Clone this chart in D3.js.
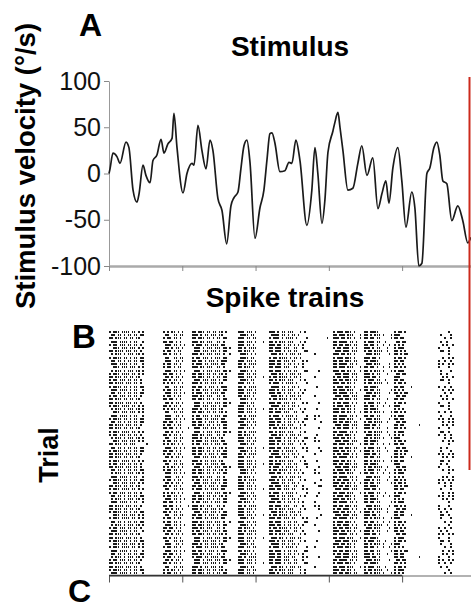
<!DOCTYPE html>
<html>
<head>
<meta charset="utf-8">
<script src="https://cdn.jsdelivr.net/npm/d3@7/dist/d3.min.js"></script>
<style>
  body { margin: 0; background: #fff; }
  svg { display: block; font-family: "Liberation Sans", Arial, Helvetica, sans-serif; }
</style>
</head>
<body>
<div id="figure"></div>
<script>
// Panel A: stimulus velocity (deg/s) against time (ms)
const stimTime = [0, 7, 27, 55, 75, 116, 136, 164, 191, 205, 232, 252, 280, 300, 327, 355, 375, 402, 430, 443,
  464, 505, 532, 566, 580, 607, 634, 662, 689, 709, 743, 771, 803, 832, 853, 880, 900, 921, 941, 962,
  996, 1030, 1057, 1078, 1098, 1112, 1132, 1166, 1200, 1228, 1248, 1275, 1303, 1350, 1384, 1405, 1425, 1453, 1473, 1494,
  1528, 1541, 1562, 1576, 1596, 1630, 1664, 1698, 1725, 1760, 1800, 1835, 1862, 1889, 1910, 1937, 1971, 1998, 2026, 2066,
  2087, 2114, 2135, 2169, 2189, 2217, 2237, 2257, 2278, 2305, 2339, 2380, 2414, 2448, 2469];
const stimVelocity = [0, 5, 22, 18, 11, 34, 28, -18, -31, -22, 9, -2, -10, 14, 20, 37, 22, 32, 38, 65,
  28, -21, 0, 11, 9, 52, 25, 5, 36, 25, -27, -40, -76, -35, -26, -20, 5, 30, 36, 12,
  -70, -37, -18, 15, 43, 44, 33, 2, 3, 12, 11, 36, 14, -56, -18, 28, 0, -54, -29, 23,
  46, 55, 66, 50, 25, -18, -16, 11, 30, -2, 17, -38, -22, -8, -32, 6, 28, -8, -58, -20,
  -37, -100, -97, 0, 6, 28, 34, 20, -8, -11, -51, -35, -51, -75, -69];
const velocityTicks = [-100, -50, 0, 50, 100];
const timeTicks = [0, 500, 1000, 1500, 2000];

// Panel B: spike raster. Each burst has a start time, a few spike patterns
// (one char per 14 ms bin) and the pattern used by each of the 76 trials.
const trialCount = 76;
const binMs = 14;
const burstStarts = [7, 375, 573, 887, 1098, 1405, 1534, 1746, 1950, 2250];
const burstMotifs = [
  ["10111011110110101", "01101101011011011", "11011101101101100", "01110111101011001", "10110111011011010",
   "00111011101110101", "11011110111011010", "01011101011101101", "10111101101011011", "1101110110111000001"],
  ["1101101010", "0110011011", "1011010110", "1010110101", "0110101101",
   "1011011010", "1101011010", "01110110101", "1101101010001", "0111001101"],
  ["11011101101011011", "10111011011110110", "11011101101101101", "01110111011101011", "11101101110011010",
   "10110111010111011", "11101011011101100", "0111010111011101101", "11011010111010111", "1110110111011101001"],
  ["111011101", "011110110", "110101111", "111011011", "110111010", "1110111010001", "011110101", "111011010"],
  ["1101011101110001010", "1110110101101010100", "1011101011110100001", "0111011010111011000", "1101110111001100100",
   "1110101101110001010", "1011011110101101000", "1101110101101100011", "0111101101011010000", "1110110111011000101"],
  ["0000", "1000", "0010", "0100", "1010", "0001", "0011", "0000001"],
  ["110111101101", "110110111011", "101110111010", "011101110111", "11101101101001",
   "111011011010", "101101110101", "11011101110001"],
  ["11011110000000", "11101011000100", "10111011001000", "01110111000010", "11010111010001",
   "11101101000000", "10110111100100", "11011011000001", "11011010010010"],
  ["110110", "101010", "101101", "011011", "110101", "111000", "101110", "1101011", "11011000100", "1101100000001"],
  ["00000100", "10000100", "01001000", "00100101", "10010010", "01000010", "00101001", "10100101", "00010010", "01100100"]
];
const burstOrder = [
  "0123456781 3570246831 4260753816 2047591862 0461738520 4173628501 7432685031 742683",
  "3150742619 5270463157 2046319702 8461537024 6135792461 3570846125 7024619570 246135",
  "2604173958 1472036851 4073625180 3746152083 6172045381 7205463819 0452736184 173620",
  "0135724610 2463517203 4617502136 7240315627 0531642705 1364207513 6420571346 205137",
  "5820147369 1473602851 3698042715 6037159284 0726135849 2581403697 1640358271 947305",
  "0070000100 0020100300 1020304150 2031402510 3021405160 2301420530 1020030100 200100",
  "2740163521 0743615270 3162540713 6025371460 5132706413 7250164302 6140735216 302751",
  "0472816350 3841526073 5128047365 1634082157 4062831705 2807361548 6315024871 530264",
  "2503164720 1463502817 3025146039 4615203748 0532614270 2516430852 1403625170 934261",
  "0582619034 7152690438 2619045736 1948302576 9213067485 3760142958 0427195836 174208"
];

const width = 471;
const height = 604;

function spikeTimesForTrial(trial) {
  const times = [];

  burstStarts.forEach((start, b) => {
    const order = burstOrder[b].replace(/ /g, "");
    const motif = burstMotifs[b][+order[trial] || 0] || "";

    for (let j = 0; j < motif.length; j++) {
      if (motif[j] === "1") times.push(start + j * binMs);
    }
  });

  return times;
}

function drawFigure() {
  const svg = d3.select("#figure")
    .append("svg")
    .attr("width", width)
    .attr("height", height)
    .attr("viewBox", `0 0 ${width} ${height}`);

  svg.append("rect")
    .attr("width", width)
    .attr("height", height)
    .attr("fill", "#fff");

  const x = d3.scaleLinear()
    .domain([0, 2470])
    .range([109, 471]);

  const y = d3.scaleLinear()
    .domain([-100, 100])
    .range([266, 81]);

  // ---- panel A ----
  svg.append("text")
    .attr("x", 79)
    .attr("y", 36)
    .style("font-size", "32px")
    .style("font-weight", "bold")
    .text("A");

  svg.append("text")
    .attr("x", 290)
    .attr("y", 56)
    .attr("text-anchor", "middle")
    .style("font-size", "28px")
    .style("font-weight", "bold")
    .text("Stimulus");

  svg.append("text")
    .attr("transform", "translate(35,166) rotate(-90)")
    .attr("text-anchor", "middle")
    .style("font-size", "27.5px")
    .style("font-weight", "bold")
    .text("Stimulus velocity (°/s)");

  svg.append("g")
    .attr("transform", "translate(109,0)")
    .call(d3.axisLeft(y)
      .tickValues(velocityTicks)
      .tickFormat((d) => String(d))
      .tickSize(5)
      .tickPadding(3)
      .tickSizeOuter(0))
    .call((g) => g.select(".domain").attr("stroke", "#999"))
    .call((g) => g.selectAll(".tick line").attr("stroke", "#888"))
    .call((g) => g.selectAll("text")
      .style("font-size", "25px")
      .style("font-family", "\"Liberation Sans\", Arial, sans-serif")
      .attr("fill", "#111"));

  svg.append("g")
    .attr("transform", "translate(0,266)")
    .call(d3.axisBottom(x).tickValues(timeTicks).tickSize(5).tickFormat("").tickSizeOuter(0))
    .call((g) => g.select(".domain").attr("stroke", "#aaa").attr("stroke-width", 2.5))
    .call((g) => g.selectAll(".tick line").attr("stroke", "#888"));

  const line = d3.line()
    .x((d, i) => x(stimTime[i]))
    .y((d) => y(d))
    .curve(d3.curveMonotoneX);

  svg.append("path")
    .datum(stimVelocity)
    .attr("fill", "none")
    .attr("stroke", "#1a1a1a")
    .attr("stroke-width", 1.7)
    .attr("stroke-linejoin", "round")
    .attr("d", line);

  // ---- panel B ----
  svg.append("text")
    .attr("x", 285)
    .attr("y", 307)
    .attr("text-anchor", "middle")
    .style("font-size", "28px")
    .style("font-weight", "bold")
    .text("Spike trains");

  svg.append("text")
    .attr("x", 72)
    .attr("y", 348)
    .style("font-size", "33px")
    .style("font-weight", "bold")
    .text("B");

  svg.append("text")
    .attr("transform", "translate(58,455) rotate(-90)")
    .attr("text-anchor", "middle")
    .style("font-size", "27px")
    .style("font-weight", "bold")
    .text("Trial");

  const trialY = d3.scaleLinear()
    .domain([0, trialCount - 1])
    .range([332, 573]);

  const spikes = d3.range(trialCount).flatMap((trial) =>
    spikeTimesForTrial(trial).map((time) => ({ trial, time }))
  );

  svg.append("g")
    .attr("class", "raster")
    .attr("shape-rendering", "crispEdges")
    .selectAll("rect")
    .data(spikes)
    .join("rect")
    .attr("x", (d) => x(d.time) - 0.7)
    .attr("y", (d) => Math.round(trialY(d.trial)) - 1)
    .attr("width", 1.5)
    .attr("height", 2)
    .attr("fill", "#1a1a1a");

  svg.append("g")
    .attr("transform", "translate(0,575.5)")
    .call(d3.axisBottom(x).tickValues(timeTicks).tickSize(7).tickFormat("").tickSizeOuter(0))
    .call((g) => g.select(".domain").attr("stroke", "#999").attr("stroke-width", 1.5))
    .call((g) => g.selectAll(".tick line").attr("stroke", "#555"));

  svg.append("line")
    .attr("x1", x(0))
    .attr("x2", x(2000))
    .attr("y1", 575.5)
    .attr("y2", 575.5)
    .attr("stroke", "#333")
    .attr("stroke-width", 1.5);

  // ---- panel C (cut off at the bottom in the original) ----
  svg.append("text")
    .attr("x", 68)
    .attr("y", 602)
    .style("font-size", "32px")
    .style("font-weight", "bold")
    .text("C");

  // red frame edge on the right
  svg.append("line")
    .attr("x1", 469.5)
    .attr("x2", 469.5)
    .attr("y1", 77)
    .attr("y2", 470)
    .attr("stroke", "#cc2a1c")
    .attr("stroke-width", 2);
}

drawFigure();
</script>
</body>
</html>
